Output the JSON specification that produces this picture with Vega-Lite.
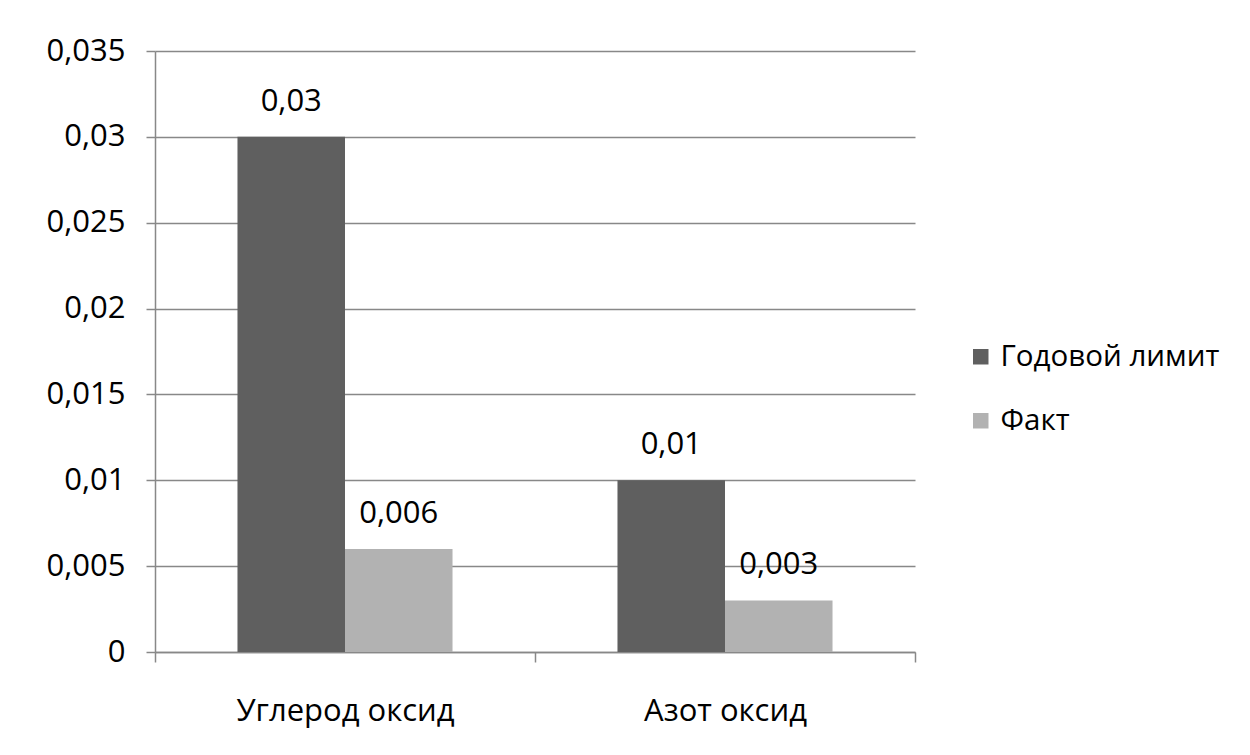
{
  "$schema": "https://vega.github.io/schema/vega-lite/v6.json",
  "autosize": "none",
  "width": 760,
  "height": 601,
  "padding": {"left": 155, "top": 51, "right": 335, "bottom": 103},
  "background": "white",
  "config": {
    "locale": {"number": {"decimal": ",", "thousands": " ", "grouping": [3], "currency": ["", ""]}},
    "font": "Open Sans",
    "view": {"stroke": null}
  },
  "data": {
    "values": [
      {"substance": "Углерод оксид", "series": "Годовой лимит", "value": 0.03},
      {"substance": "Углерод оксид", "series": "Факт", "value": 0.006},
      {"substance": "Азот оксид", "series": "Годовой лимит", "value": 0.01},
      {"substance": "Азот оксид", "series": "Факт", "value": 0.003}
    ]
  },
  "encoding": {
    "x": {
      "field": "substance",
      "type": "nominal",
      "sort": ["Углерод оксид", "Азот оксид"],
      "scale": {"paddingInner": 0, "paddingOuter": 0},
      "axis": {
        "title": null,
        "labelAngle": 0,
        "labelFontSize": 31,
        "labelLimit": 0,
        "labelColor": "#000000",
        "labelPadding": 34,
        "domainColor": "#888888",
        "domainWidth": 1.5,
        "tickColor": "#888888",
        "tickWidth": 1.5,
        "tickSize": 10,
        "tickBand": "extent",
        "grid": false
      }
    },
    "xOffset": {
      "field": "series",
      "type": "nominal",
      "sort": ["Годовой лимит", "Факт"],
      "scale": {"paddingInner": 0, "paddingOuter": 0.767}
    },
    "y": {
      "field": "value",
      "type": "quantitative",
      "scale": {"domain": [0, 0.035], "nice": false},
      "axis": {
        "title": null,
        "values": [0, 0.005, 0.01, 0.015, 0.02, 0.025, 0.03, 0.035],
        "format": ".3~f",
        "labelFontSize": 31,
        "labelColor": "#000000",
        "labelPadding": 21,
        "grid": true,
        "gridColor": "#888888",
        "gridWidth": 1.5,
        "domainColor": "#888888",
        "domainWidth": 1.5,
        "tickColor": "#888888",
        "tickWidth": 1.5,
        "tickSize": 9
      }
    }
  },
  "layer": [
    {
      "mark": {"type": "bar"},
      "encoding": {
        "color": {
          "field": "series",
          "type": "nominal",
          "sort": ["Годовой лимит", "Факт"],
          "scale": {"domain": ["Годовой лимит", "Факт"], "range": ["#5f5f5f", "#b2b2b2"]},
          "legend": {
            "orient": "none",
            "legendX": 811,
            "legendY": 291,
            "title": null,
            "symbolType": "square",
            "symbolSize": 240,
            "symbolStrokeWidth": 0,
            "labelFontSize": 29.5,
            "labelLimit": 0,
            "labelColor": "#000000",
            "labelOffset": 5,
            "rowPadding": 33
          }
        }
      }
    },
    {
      "mark": {"type": "text", "baseline": "middle", "dy": -35, "fontSize": 31, "color": "#000000"},
      "encoding": {
        "text": {"field": "value", "type": "quantitative", "format": ".3~f"}
      }
    }
  ]
}
